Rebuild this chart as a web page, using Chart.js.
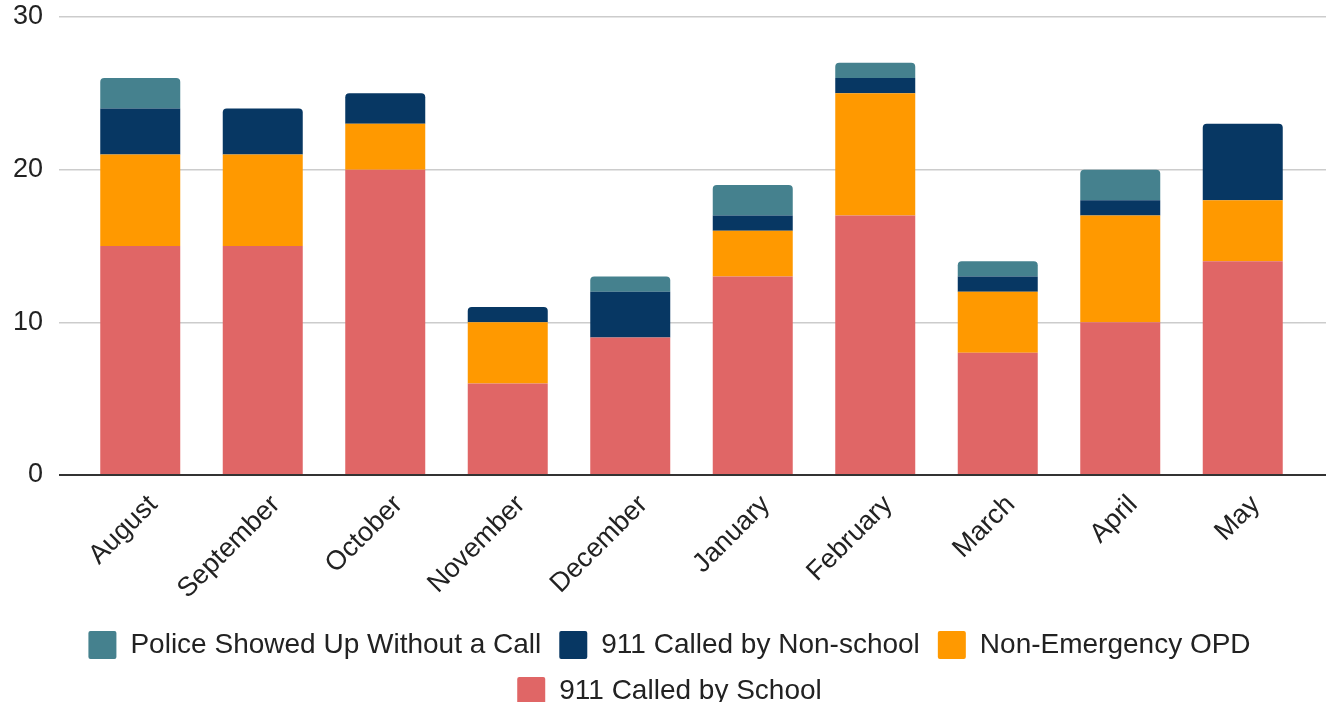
<!DOCTYPE html>
<html>
<head>
<meta charset="utf-8">
<script src="https://cdn.jsdelivr.net/npm/chart.js@4/dist/chart.umd.min.js"></script>
<style>
  html, body { margin: 0; padding: 0; background: #fff; }
  #wrap { width: 1328px; height: 702px; position: relative; }
</style>
</head>
<body>
<div id="wrap"><canvas id="myChart"></canvas></div>
<script>
// Months of the school year
var categories = ['August', 'September', 'October', 'November', 'December',
                  'January', 'February', 'March', 'April', 'May'];

// Counts per month, one array per type of police contact
var calledBySchool    = [15, 15, 20, 6, 9, 13, 17, 8, 10, 14];
var nonEmergencyOPD   = [6, 6, 3, 4, 0, 3, 8, 4, 7, 4];
var calledByNonSchool = [3, 3, 2, 1, 3, 1, 1, 1, 1, 5];
var showedUpNoCall    = [2, 0, 0, 0, 1, 2, 1, 1, 2, 0];

var yTicks = [0, 10, 20, 30];

Chart.defaults.font.family = '"Liberation Sans", Arial, sans-serif';
Chart.defaults.font.size = 27;
Chart.defaults.color = '#222';

function gridColor(c) {
    return c.tick && c.tick.value === 0 ? '#333' : '#cccccc';
}
function gridWidth(c) {
    return c.tick && c.tick.value === 0 ? 2 : 1.5;
}
function fixedTicks(s) {
    s.ticks = yTicks.map(function (v) { return { value: v }; });
}

var bar = { borderWidth: 0, borderRadius: 4, barPercentage: 0.653, categoryPercentage: 1 };

var data = {
    labels: categories,
    datasets: [
        Object.assign({ label: '911 Called by School', data: calledBySchool, backgroundColor: '#E06666' }, bar),
        Object.assign({ label: 'Non-Emergency OPD', data: nonEmergencyOPD, backgroundColor: '#FF9900' }, bar),
        Object.assign({ label: '911 Called by Non-school', data: calledByNonSchool, backgroundColor: '#073763' }, bar),
        Object.assign({ label: 'Police Showed Up Without a Call', data: showedUpNoCall, backgroundColor: '#45818E' }, bar)
    ]
};

var options = {
    responsive: true,
    maintainAspectRatio: false,
    animation: false,
    layout: { padding: { left: 13, right: 2, top: 17, bottom: -13 } },
    plugins: {
        tooltip: { enabled: false },
        legend: {
            position: 'bottom',
            reverse: true,
            labels: {
                boxWidth: 28,
                boxHeight: 28,
                padding: 18,
                useBorderRadius: true,
                borderRadius: 2,
                color: '#222',
                font: { size: 28 }
            }
        }
    },
    scales: {
        x: {
            stacked: true,
            grid: { display: false },
            border: { display: false },
            ticks: { minRotation: 45, maxRotation: 45, padding: 6, labelOffset: 13, color: '#222' },
            // rotated month names may hang past the edges; keep the plot width fixed
            afterFit: function (s) {
                s.paddingLeft = 0;
                s.paddingRight = 0;
                s.height = 138;
            }
        },
        y: {
            stacked: true,
            min: yTicks[0],
            max: yTicks[yTicks.length - 1],
            afterBuildTicks: fixedTicks,
            border: { display: false },
            grid: { color: gridColor, tickColor: gridColor, lineWidth: gridWidth, tickLength: 20 },
            ticks: { padding: 16, color: '#222' },
            afterFit: function (s) {
                s.width = 66;
                s.paddingTop = 0;
                s.paddingBottom = 0;
            }
        },
        // right-hand stub so the grid lines run past the last bar
        yRight: {
            position: 'right',
            min: yTicks[0],
            max: yTicks[yTicks.length - 1],
            afterBuildTicks: fixedTicks,
            border: { display: false },
            grid: { drawOnChartArea: false, color: gridColor, tickColor: gridColor, lineWidth: gridWidth, tickLength: 22 },
            ticks: { display: false }
        }
    }
};

var ctx = document.getElementById('myChart').getContext('2d');
var myChart = new Chart(ctx, {
    type: 'bar',
    data: data,
    options: options
});
</script>
</body>
</html>
